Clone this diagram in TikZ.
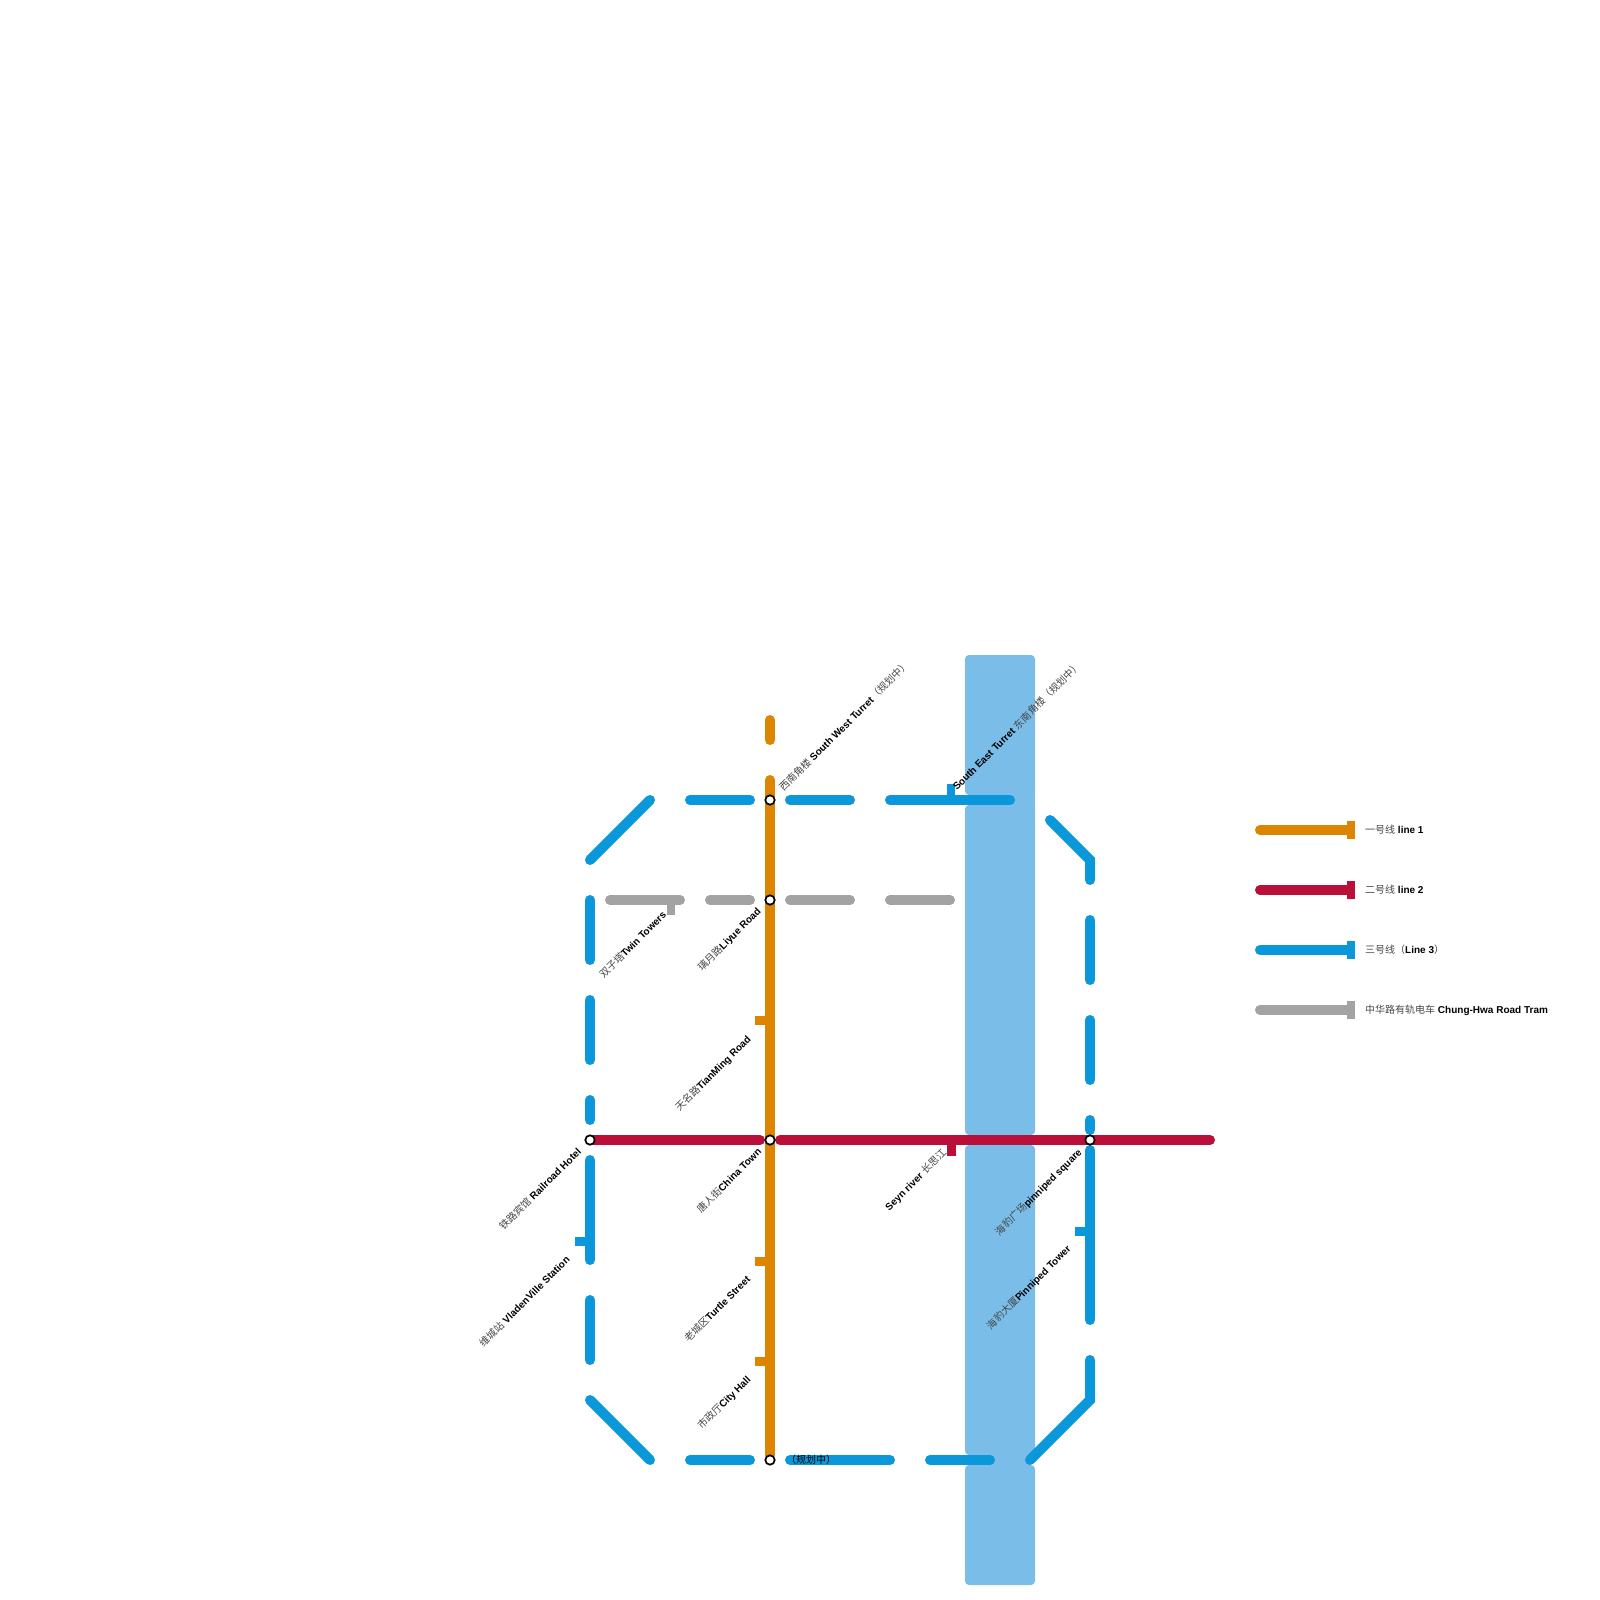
\documentclass[tikz,border=0pt]{standalone}
\usepackage{fontspec}
\setmainfont{Liberation Sans}
\newfontfamily\cjkfont{Noto Sans CJK SC}
\newcommand{\zhtxt}[1]{{\cjkfont\color{black!72}#1}}
\newcommand{\entxt}[1]{{\bfseries #1}}
\definecolor{lineone}{HTML}{DD8500}
\definecolor{linetwo}{HTML}{BA0F39}
\definecolor{linethree}{HTML}{0A98DA}
\definecolor{linetram}{HTML}{A3A3A3}
\definecolor{riverblue}{HTML}{79BDE8}
\tikzset{
  rail/.style={line width=10pt,line cap=round,line join=miter},
  riverband/.style={fill=riverblue,draw=none,rounded corners=4pt},
  stationdot/.style={circle,draw=black,fill=white,line width=1.7pt,minimum size=9.4pt,inner sep=0pt},
  upend/.style={font=\fontsize{10}{12}\selectfont,rotate=45,anchor=base east,inner sep=0pt},
  upstart/.style={font=\fontsize{10}{12}\selectfont,rotate=45,anchor=base west,inner sep=0pt},
  legendtext/.style={font=\fontsize{10}{12}\selectfont,anchor=west,inner sep=0pt},
}
\begin{document}
\begin{tikzpicture}[x=1pt,y=-1pt]
\useasboundingbox (0,0) rectangle (1600,1600);
\fill[white] (0,0) rectangle (1600,1600);
% river
\fill[riverband] (965,655) rectangle (1035,795);
\fill[riverband] (965,805) rectangle (1035,1135);
\fill[riverband] (965,1145) rectangle (1035,1455);
\fill[riverband] (965,1465) rectangle (1035,1585);
\fill[riverblue] (985,790) rectangle (1035,810);
\fill[riverblue] (985,1450) rectangle (1030,1470);
% stations
\coordinate (a) at (590,1140);
\coordinate (b) at (770,800);
\coordinate (c) at (770,900);
\coordinate (d) at (770,1140);
\coordinate (e) at (770,1460);
\coordinate (f) at (1090,1140);
% stubs
\fill[linethree] (947,784) rectangle (955,800);
\fill[linetram] (667,900) rectangle (675,915);
\fill[lineone] (755,1016) rectangle (770,1025);
\fill[lineone] (755,1257) rectangle (770,1266);
\fill[lineone] (755,1357) rectangle (770,1366);
\fill[linethree] (575,1237) rectangle (590,1246);
\fill[linethree] (1075,1227) rectangle (1090,1236);
\fill[linetwo] (947,1140) rectangle (956,1156);
% line 3
\begin{scope}[rail,draw=linethree]
\draw (590,860) -- (650,800);
\draw (690,800) -- (750,800);
\draw (790,800) -- (850,800);
\draw (890,800) -- (1010,800);
\draw (1050,820) -- (1090,860) -- (1090,880);
\draw (1090,920) -- (1090,980);
\draw (1090,1020) -- (1090,1080);
\draw (1090,1120) -- (1090,1130);
\draw (1090,1150) -- (1090,1320);
\draw (1090,1360) -- (1090,1400) -- (1030,1460);
\draw (990,1460) -- (930,1460);
\draw (890,1460) -- (790,1460);
\draw (750,1460) -- (690,1460);
\draw (650,1460) -- (590,1400);
\draw (590,1360) -- (590,1300);
\draw (590,1260) -- (590,1160);
\draw (590,1120) -- (590,1100);
\draw (590,1060) -- (590,1000);
\draw (590,960) -- (590,900);
\end{scope}
% tram
\begin{scope}[rail,draw=linetram]
\draw (610,900) -- (680,900);
\draw (710,900) -- (750,900);
\draw (790,900) -- (850,900);
\draw (890,900) -- (950,900);
\end{scope}
% line 2
\begin{scope}[rail,draw=linetwo]
\draw (a) -- (760,1140);
\draw (780,1140) -- (1210,1140);
\end{scope}
% line 1
\begin{scope}[rail,draw=lineone]
\draw (770,720) -- (770,740);
\draw (770,780) -- (770,1455);
\end{scope}
% station dots
\node[stationdot] (sa) at (a) {};
\node[stationdot] (sb) at (b) {};
\node[stationdot] (sc) at (c) {};
\node[stationdot] (sd) at (d) {};
\node[stationdot] (se) at (e) {};
\node[stationdot] (sf) at (f) {};
% labels
\node[upstart] (l1) at (783.5,792) {\zhtxt{西南角楼} \entxt{South West Turret}\zhtxt{（规划中）}};
\node[upstart] (l2) at (957,791) {\entxt{South East Turret} \zhtxt{东南角楼（规划中）}};
\node[upend] (l3) at (667,915.5) {\zhtxt{双子塔}\entxt{Twin Towers}};
\node[upend] (l4) at (761.5,912) {\zhtxt{璃月路}\entxt{Liyue Road}};
\node[upend] (l5) at (751.5,1040) {\zhtxt{天名路}\entxt{TianMing Road}};
\node[upend] (l6) at (582,1152.5) {\zhtxt{铁路宾馆} \entxt{Railroad Hotel}};
\node[upend] (l7) at (762,1152.5) {\zhtxt{唐人街}\entxt{China Town}};
\node[upend] (l8) at (947,1153.5) {\entxt{Seyn river} \zhtxt{长思江}};
\node[upend] (l9) at (1082.5,1153) {\zhtxt{海豹广场}\entxt{pinniped square}};
\node[upend] (l10) at (570.5,1260.5) {\zhtxt{维城站} \entxt{VladenVille Station}};
\node[upend] (l11) at (1071.5,1249.5) {\zhtxt{海豹大厦}\entxt{Pinniped Tower}};
\node[upend] (l12) at (751,1280) {\zhtxt{老城区}\entxt{Turtle Street}};
\node[upend] (l13) at (751.5,1380) {\zhtxt{市政厅}\entxt{City Hall}};
\node[legendtext] (l14) at (786,1460) {{\cjkfont（规划中）}};
% legend
\coordinate (k1a) at (1260,830); \coordinate (k1b) at (1350,830);
\coordinate (k2a) at (1260,890); \coordinate (k2b) at (1350,890);
\coordinate (k3a) at (1260,950); \coordinate (k3b) at (1350,950);
\coordinate (k4a) at (1260,1010); \coordinate (k4b) at (1350,1010);
\draw[rail,lineone] (k1a) -- (k1b);
\draw[rail,linetwo] (k2a) -- (k2b);
\draw[rail,linethree] (k3a) -- (k3b);
\draw[rail,linetram] (k4a) -- (k4b);
\fill[lineone] (1347,821) rectangle (1355,839);
\fill[linetwo] (1347,881) rectangle (1355,899);
\fill[linethree] (1347,941) rectangle (1355,959);
\fill[linetram] (1347,1001) rectangle (1355,1019);
\node[legendtext] (t1) at (1365,830) {\zhtxt{一号线} \entxt{line 1}};
\node[legendtext] (t2) at (1365,890) {\zhtxt{二号线} \entxt{line 2}};
\node[legendtext] (t3) at (1365,950) {\zhtxt{三号线（}\entxt{Line 3}\zhtxt{）}};
\node[legendtext] (t4) at (1365,1010) {\zhtxt{中华路有轨电车} \entxt{Chung-Hwa Road Tram}};
\end{tikzpicture}
\end{document}
